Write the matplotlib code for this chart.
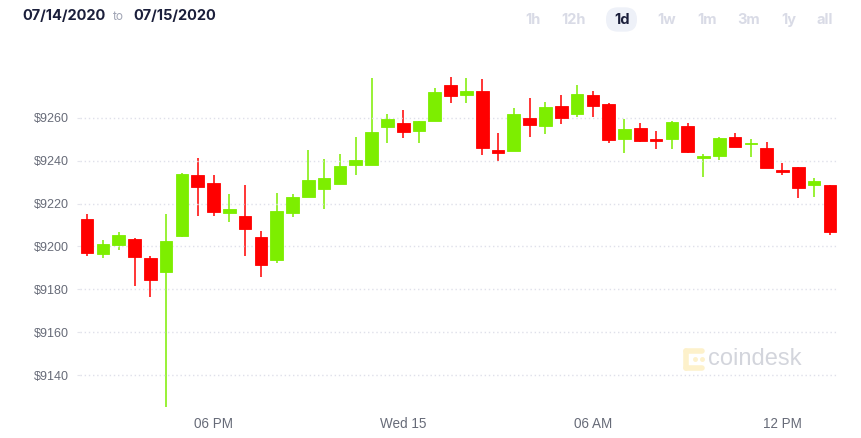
import numpy as np
import matplotlib
matplotlib.use("Agg")
import matplotlib.pyplot as plt
from matplotlib.patches import FancyBboxPatch
from matplotlib.lines import Line2D
from matplotlib.transforms import IdentityTransform

# BTC 30-minute candles, 07/14/2020 14:00 -> 07/15/2020 13:30
opens = [9212.7, 9196.6, 9200.8, 9203.4, 9194.8, 9188.0, 9204.8, 9233.2, 9229.5, 9215.8,
         9214.4, 9204.3, 9193.6, 9215.6, 9223.1, 9227.0, 9229.3, 9238.2, 9237.9, 9255.9,
         9257.6, 9253.9, 9258.7, 9275.4, 9270.6, 9272.4, 9245.0, 9244.7, 9260.1, 9256.2,
         9265.7, 9261.7, 9270.6, 9266.4, 9250.2, 9255.4, 9249.8, 9250.0, 9256.2, 9241.5,
         9242.4, 9251.2, 9247.6, 9245.8, 9235.6, 9237.0, 9228.8, 9228.8]
highs = [9215.2, 9203.0, 9206.8, 9204.0, 9195.6, 9215.0, 9234.3, 9241.3, 9233.2, 9224.4,
         9228.6, 9207.4, 9225.1, 9224.4, 9245.0, 9240.8, 9243.3, 9251.0, 9278.6, 9261.7,
         9263.7, 9258.4, 9274.0, 9279.1, 9278.6, 9278.0, 9253.1, 9264.8, 9269.2, 9267.4,
         9270.7, 9275.5, 9272.4, 9267.1, 9259.4, 9257.5, 9253.9, 9258.6, 9257.5, 9243.2,
         9251.2, 9252.8, 9250.0, 9248.6, 9238.8, 9237.0, 9231.8, 9228.8]
lows = [9195.6, 9194.6, 9198.5, 9181.6, 9176.6, 9125.2, 9204.5, 9214.2, 9214.2, 9211.6,
        9195.6, 9185.9, 9192.4, 9213.9, 9223.0, 9217.5, 9229.3, 9233.4, 9237.9, 9248.4,
        9250.6, 9248.4, 9258.7, 9266.8, 9266.8, 9242.6, 9239.8, 9244.7, 9251.2, 9252.6,
        9257.3, 9260.3, 9260.3, 9248.2, 9243.6, 9248.8, 9245.6, 9245.6, 9243.8, 9232.6,
        9240.4, 9246.3, 9241.9, 9236.5, 9233.5, 9222.8, 9223.2, 9205.2]
closes = [9197.1, 9201.0, 9205.5, 9195.0, 9184.4, 9202.7, 9234.0, 9227.6, 9216.2, 9217.5,
          9208.3, 9191.5, 9216.7, 9223.1, 9231.0, 9232.0, 9237.6, 9240.4, 9253.4, 9259.5,
          9253.4, 9258.4, 9272.1, 9270.1, 9272.6, 9246.0, 9243.8, 9261.8, 9256.6, 9265.2,
          9260.1, 9271.0, 9265.7, 9249.6, 9254.8, 9249.2, 9249.4, 9258.2, 9244.2, 9241.8,
          9250.8, 9246.6, 9247.9, 9236.5, 9234.6, 9227.2, 9230.6, 9206.8]

y_ticks = [9140, 9160, 9180, 9200, 9220, 9240, 9260]
x_tick_idx = [8, 20, 32, 44]
x_tick_labels = ["06 PM", "Wed 15", "06 AM", "12 PM"]
ranges = ["1h", "12h", "1d", "1w", "1m", "3m", "1y", "all"]

W, H = 861, 438
UP, DOWN = "#7DEE00", "#FF0000"

fig = plt.figure(figsize=(W / 100, H / 100), dpi=100)
ax = fig.add_axes([80 / W, 0.0605, 757 / W, 0.7927])

o = np.array(opens)
c = np.array(closes)
x = np.arange(len(o))
colors = [UP if cc >= oo else DOWN for oo, cc in zip(o, c)]

# wicks then bodies
ax.vlines(x, lows, highs, colors=colors, linewidth=1.3, alpha=0.85, zorder=2)
body_h = np.maximum(np.abs(c - o), 0.9)
ax.bar(x, body_h, bottom=np.minimum(o, c), width=0.8, color=colors,
       edgecolor=colors, linewidth=0.6, zorder=3)

ax.set_xlim(-0.45, len(o) - 0.55)
ax.set_ylim(9123, 9285)

ax.set_yticks(y_ticks)
ax.set_yticklabels(["$%d" % v for v in y_ticks], fontsize=9,
                   family="Liberation Sans", color="#676b78")
ax.set_xticks(x_tick_idx)
ax.set_xticklabels(x_tick_labels, fontsize=9.75, family="Liberation Sans",
                   color="#676b78")
ax.tick_params(axis="y", length=2.5, color="#e4e5ec", pad=5.5)
ax.tick_params(axis="x", length=0, pad=4)
ax.grid(axis="y", linestyle=(0, (1, 2)), color="#dfe0ea", linewidth=1, zorder=4)
ax.set_axisbelow(False)
for s in ax.spines.values():
    s.set_visible(False)

# header
def fx(px):
    return px / W

def fy(py):
    return 1 - py / H

fig.text(fx(22), fy(16.5), "07/14/2020", fontsize=10.5, fontweight="bold",
         family="Inter", color="#1b1f3b", va="center")
fig.text(fx(113), fy(17.5), "to", fontsize=8.5, family="Inter",
         color="#a0a4b4", va="center")
fig.text(fx(133), fy(16.5), "07/15/2020", fontsize=10.5, fontweight="bold",
         family="Inter", color="#1b1f3b", va="center")

pill = FancyBboxPatch((606, H - 31.7), 31, 24.4,
                      boxstyle="round,pad=0,rounding_size=12",
                      transform=IdentityTransform(), facecolor="#eef1f8",
                      edgecolor="none")
fig.add_artist(pill)
range_x = [533.5, 574, 622, 667, 707.5, 749, 788.5, 824.5]
for lab, px in zip(ranges, range_x):
    fig.text(fx(px), fy(20), lab, fontsize=10.5, fontweight="bold", family="Inter",
             color="#1b1f3b" if lab == "1d" else "#d9dbe6",
             ha="center", va="center")

# watermark
logo_col = "#fdf1cb"
for xs, ys in [([686, 702], [351, 351]), ([686, 686], [351, 368]),
               ([686, 702], [368, 368])]:
    fig.add_artist(Line2D(xs, [H - v for v in ys], transform=IdentityTransform(),
                          color=logo_col, linewidth=4, solid_capstyle="round"))
for px_, py_ in [(695, 359), (702, 359)]:
    fig.add_artist(Line2D([px_], [H - py_], transform=IdentityTransform(),
                          marker="o", markersize=2.5, color=logo_col,
                          linestyle="none"))
fig.text(fx(708), fy(359), "coindesk", fontsize=17, family="Liberation Sans",
         color="#d3d5dc", va="center")

fig.savefig("out.png", dpi=100)
